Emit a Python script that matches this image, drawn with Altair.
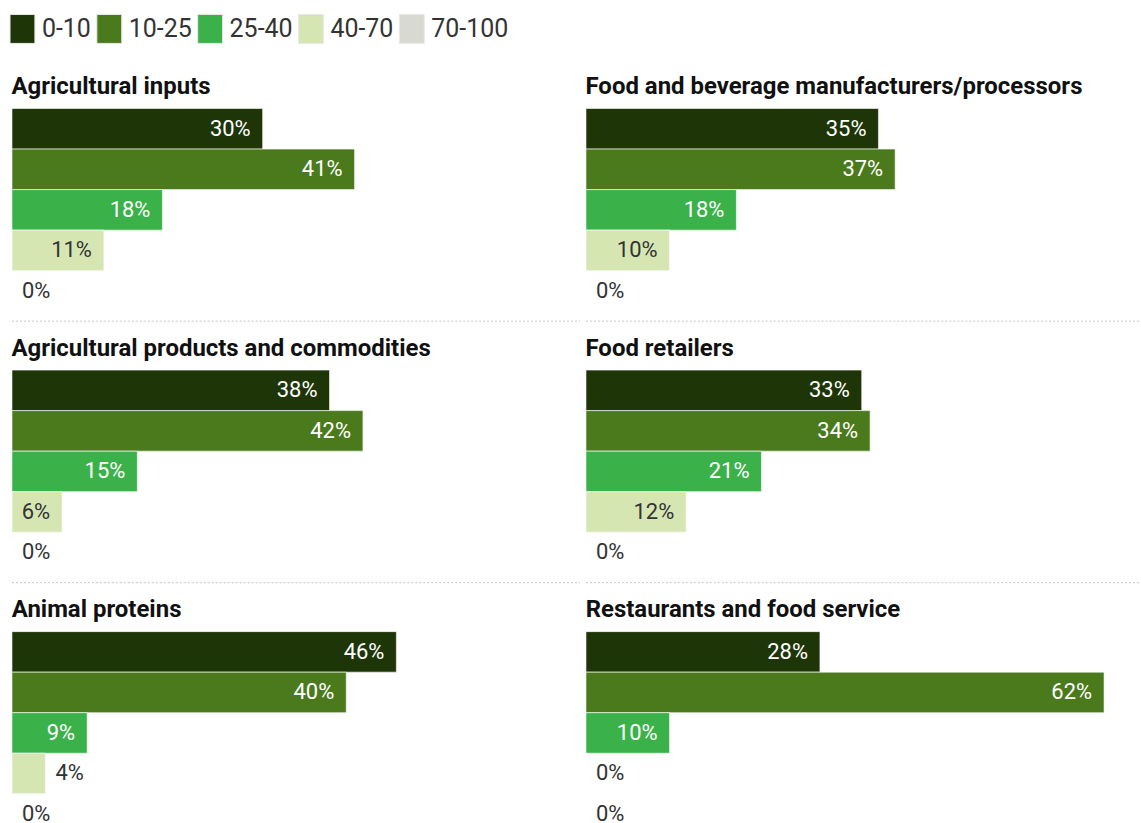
import altair as alt
import pandas as pd

cats = ["0-10", "10-25", "25-40", "40-70", "70-100"]
colors = ["#1e3507", "#4a7a1b", "#3bb14a", "#d6e6b3", "#d8dad2"]

panels = [
    "Agricultural inputs",
    "Food and beverage manufacturers/processors",
    "Agricultural products and commodities",
    "Food retailers",
    "Animal proteins",
    "Restaurants and food service",
]
ag_inputs = [30, 41, 18, 11, 0]
food_bev = [35, 37, 18, 10, 0]
ag_products = [38, 42, 15, 6, 0]
food_retail = [33, 34, 21, 12, 0]
animal_prot = [46, 40, 9, 4, 0]
restaurants = [28, 62, 10, 0, 0]
values = [ag_inputs, food_bev, ag_products, food_retail, animal_prot, restaurants]

W = 555
H = 203
FONT = "Roboto"
XMAX = 66.3


def panel(name, vals, col, row):
    df = pd.DataFrame({"group": cats, "value": vals})
    base = alt.Chart(df).transform_calculate(label="datum.value + '%'")
    y = alt.Y("group:N", sort=cats, axis=None,
              scale=alt.Scale(paddingInner=0, paddingOuter=0))
    x = alt.X("value:Q", axis=None, scale=alt.Scale(domain=[0, XMAX]))
    bars = base.mark_bar(stroke="white", strokeWidth=0.6).encode(
        x=x, y=y,
        color=alt.Color("group:N", scale=alt.Scale(domain=cats, range=colors),
                        sort=cats, title=None),
    )
    inside = base.transform_filter("datum.value >= 5").mark_text(
        align="right", baseline="middle", dx=-12, fontSize=22, font=FONT
    ).encode(
        x=x, y=y, text="label:N",
        color=alt.condition("datum.group == '40-70' || datum.group == '70-100'",
                            alt.value("#333333"), alt.value("#ffffff")),
    )
    outside = base.transform_filter("datum.value < 5").mark_text(
        align="left", baseline="middle", dx=10, fontSize=22, font=FONT, color="#333333"
    ).encode(x=x, y=y, text="label:N")
    layers = [bars, inside, outside]
    if row < 2:
        rule = alt.Chart(pd.DataFrame({"r": [0]})).mark_rule(
            strokeDash=[2, 2], color="#c4c4c4", strokeWidth=1
        ).encode(
            x=alt.value(0), x2=alt.value(W + 14 if col == 0 else W),
            y=alt.value(H + 10),
        )
        layers.append(rule)
    return alt.layer(*layers).properties(
        width=W, height=H,
        title=alt.TitleParams(name, anchor="start", fontSize=24, fontWeight="bold",
                              font=FONT, color="#111111", offset=9),
    )


rows = []
for r in range(3):
    rows.append(alt.hconcat(
        panel(panels[2 * r], values[2 * r], 0, r),
        panel(panels[2 * r + 1], values[2 * r + 1], 1, r),
        spacing=20, bounds="flush",
    ))

chart = alt.vconcat(*rows, spacing=14).properties(
    padding={"left": 11, "top": 13, "right": 0, "bottom": 0}
).configure_view(stroke=None).configure_legend(
    orient="top", direction="horizontal",
    symbolType="M-1.17,-1H0.55V1H-1.17Z", symbolSize=841,
    symbolStrokeColor="#e8e8e8", symbolStrokeWidth=1,
    labelFontSize=25, labelFont=FONT, labelColor="#333333",
    labelOffset=0, columnPadding=3, offset=29, padding=0,
)

chart.save("out.html", embed_options={"renderer": "svg", "actions": False})
